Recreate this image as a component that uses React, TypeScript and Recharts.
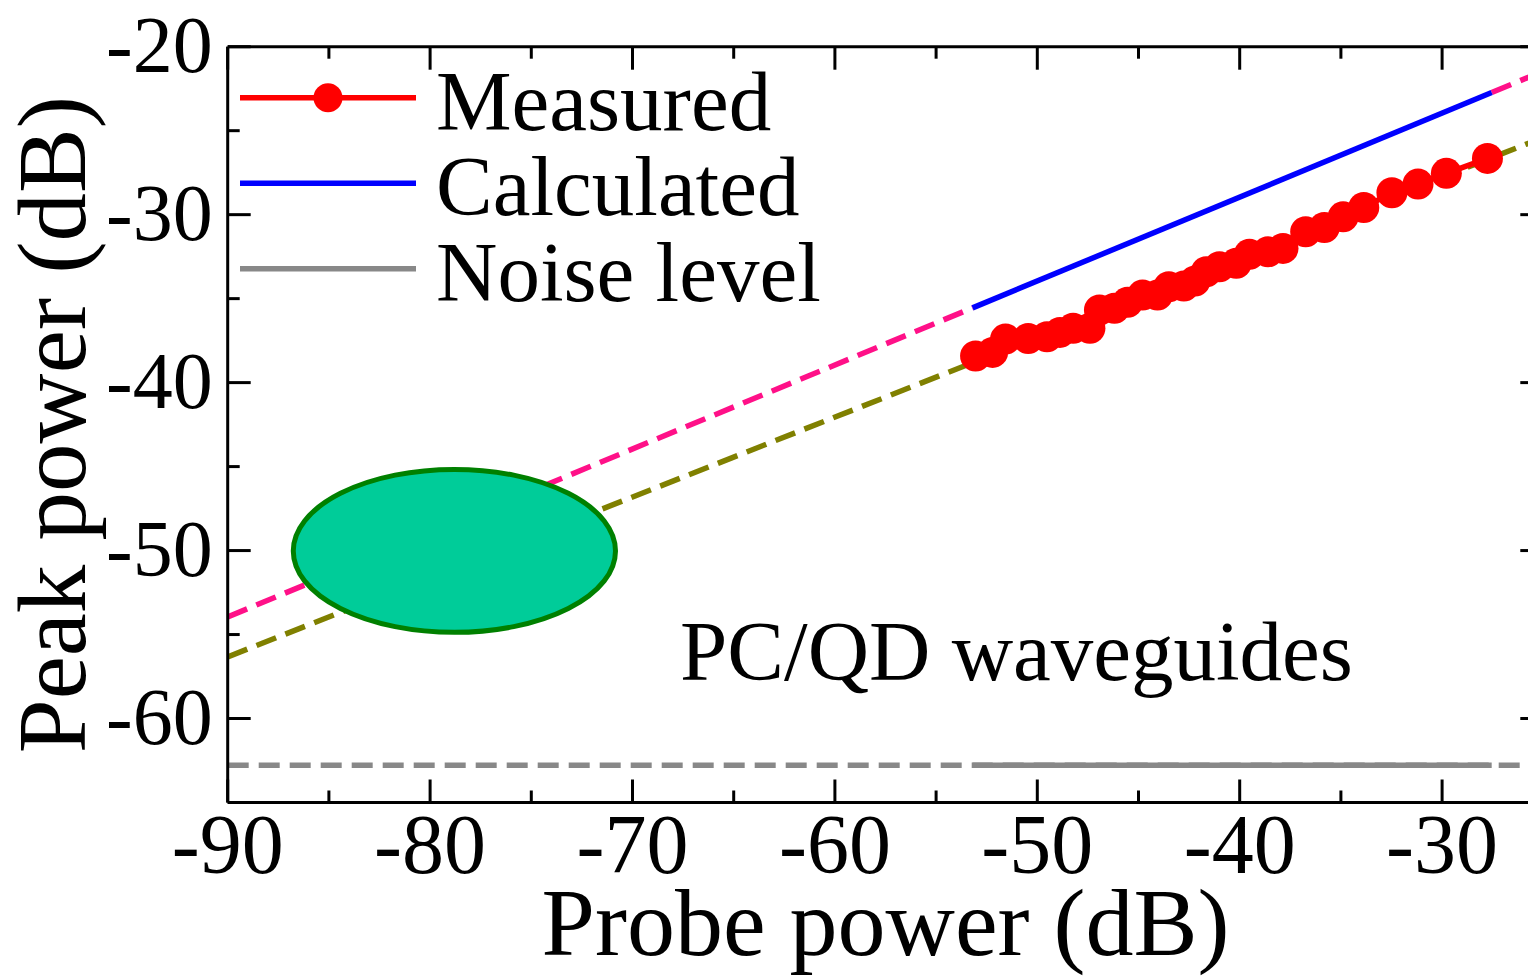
import React from 'react';
import {
  ComposedChart,
  Line,
  XAxis,
  YAxis,
  ReferenceArea,
  ReferenceDot,
  Legend,
  Label,
} from 'recharts';

// ---------- data ----------
const probePower = [
  -53.05, -52.21, -51.57, -50.45, -49.52, -48.88, -48.23, -47.4, -46.93, -46.19,
  -45.54, -44.8, -44.06, -43.5, -42.76, -42.21, -41.65, -41.0, -40.17, -39.52,
  -38.6, -37.86, -36.74, -35.82, -34.89, -33.87, -32.48, -31.19, -29.79, -27.76,
];
const peakPower = [
  -38.42, -38.2, -37.41, -37.37, -37.27, -37.01, -36.77, -36.77, -35.68, -35.58,
  -35.22, -34.79, -34.79, -34.29, -34.25, -33.95, -33.4, -33.1, -32.9, -32.36,
  -32.21, -32.01, -31.02, -30.76, -30.13, -29.57, -28.7, -28.18, -27.54, -26.65,
];

// calculated line: dashed extrapolation | solid range | dashed extrapolation
const calcX = [-90, -53.2, -27.55, -25];
const calcY = [-53.95, -35.55, -22.73, -21.45];
// fit through measured points (dashed)
const fitX = [-90, -25];
const fitY = [-56.33, -25.4];
// noise level
const noiseLevel = -62.78;
const noiseFullRange = [-90, -25];
const noiseMeasuredRange = [-53.2, -27.55];
// highlighted operating region (ellipse)
const spotX = [-86.76, -70.84];
const spotY = [-54.87, -45.17];

const xTicks = [-90, -85, -80, -75, -70, -65, -60, -55, -50, -45, -40, -35, -30, -25];
const yTicks = [-65, -60, -55, -50, -45, -40, -35, -30, -25, -20];
const xDomain = [-90, -25];
const yDomain = [-65, -20];

const legendItems = ['Measured', 'Calculated', 'Noise level'];
const annotationText = 'PC/QD waveguides';
const annotationAt = { x: -67.65, y: -57.72 };
const xTitle = 'Probe power (dB)';
const yTitle = 'Peak power (dB)';

// ---------- derived tables ----------
const measuredData = probePower.map((x, i) => ({ x, y: peakPower[i] }));
const calcLeft = [
  { x: calcX[0], y: calcY[0] },
  { x: calcX[1], y: calcY[1] },
];
const calcMid = [
  { x: calcX[1], y: calcY[1] },
  { x: calcX[2], y: calcY[2] },
];
const calcRight = [
  { x: calcX[2], y: calcY[2] },
  { x: calcX[3], y: calcY[3] },
];
const fitData = fitX.map((x, i) => ({ x, y: fitY[i] }));
const noiseDashed = noiseFullRange.map((x) => ({ x, y: noiseLevel }));
const noiseSolid = noiseMeasuredRange.map((x) => ({ x, y: noiseLevel }));

// ---------- style ----------
const FONT = '"Liberation Serif", "Times New Roman", Times, serif';
const W = 1600;
const H = 976;
// axes get a 1px box each, so margins are 1px smaller
const MARGIN = { top: 45.7, right: 55.7, bottom: 172.5, left: 226.7 };
const TM = 15; // tick margin
const MAJOR = 23;
const MINOR = 12;
const XTICK_FS = 84;
const YTICK_FS = 80;
const AXIS_W = 3;

const RED = '#ff0000';
const BLUE = '#0000ff';
const PINK = '#ff1088';
const OLIVE = '#808000';
const GRAY = '#888888';
const DASH = '21 10';
const LW = 5.5;

const isMajor = (v: number) => Math.round(v) % 10 === 0;

const BottomTick = (props: any) => {
  const { x, y, payload } = props;
  const v = Math.round(payload.value);
  const ay = y - TM;
  const len = isMajor(v) ? MAJOR : MINOR;
  return (
    <g>
      <line x1={x} x2={x} y1={ay} y2={ay - len} stroke="#000" strokeWidth={AXIS_W} />
      {isMajor(v) && (
        <text x={x} y={y} dy={55} textAnchor="middle" fontFamily={FONT} fontSize={XTICK_FS} fill="#000">
          {v}
        </text>
      )}
    </g>
  );
};

const TopTick = (props: any) => {
  const { x, y, payload } = props;
  const v = Math.round(payload.value);
  const ay = y + TM;
  const len = isMajor(v) ? MAJOR : MINOR;
  return <line x1={x} x2={x} y1={ay} y2={ay + len} stroke="#000" strokeWidth={AXIS_W} />;
};

const LeftTick = (props: any) => {
  const { x, y, payload } = props;
  const v = Math.round(payload.value);
  const ax = x + TM;
  const len = isMajor(v) ? MAJOR : MINOR;
  return (
    <g>
      <line x1={ax} x2={ax + len} y1={y} y2={y} stroke="#000" strokeWidth={AXIS_W} />
      {isMajor(v) && (
        <text x={x} y={y} dy={25} textAnchor="end" fontFamily={FONT} fontSize={YTICK_FS} fill="#000">
          {v}
        </text>
      )}
    </g>
  );
};

const RightTick = (props: any) => {
  const { x, y, payload } = props;
  const v = Math.round(payload.value);
  const ax = x - TM;
  const len = isMajor(v) ? MAJOR : MINOR;
  return <line x1={ax} x2={ax - len} y1={y} y2={y} stroke="#000" strokeWidth={AXIS_W} />;
};

const XTitle = (props: any) => {
  const vb = props.viewBox || {};
  const cx = vb.x + vb.width / 2;
  return (
    <text x={cx} y={vb.y + 152} textAnchor="middle" fontFamily={FONT} fontSize={96} fill="#000">
      {xTitle}
    </text>
  );
};

const YTitle = (props: any) => {
  const vb = props.viewBox || {};
  const cy = vb.y + vb.height / 2;
  const bx = vb.x + (vb.width || 0) - 143;
  return (
    <text
      x={bx}
      y={cy}
      transform={`rotate(-90 ${bx} ${cy})`}
      textAnchor="middle"
      fontFamily={FONT}
      fontSize={97}
      fill="#000"
    >
      {yTitle}
    </text>
  );
};

const Annotation = (props: any) => {
  const vb = props.viewBox || {};
  return (
    <text x={vb.x} y={vb.y} textAnchor="start" fontFamily={FONT} fontSize={85} fill="#000">
      {annotationText}
    </text>
  );
};

const EllipseShape = (props: any) => {
  const { x, y, width, height } = props;
  return (
    <ellipse
      cx={x + width / 2}
      cy={y + height / 2}
      rx={Math.abs(width) / 2}
      ry={Math.abs(height) / 2}
      fill="#00cc99"
      stroke="#008000"
      strokeWidth={5}
    />
  );
};

const LegendContent = () => {
  const rows = [97.7, 183.3, 268.7];
  const colors = [RED, BLUE, GRAY];
  return (
    <svg width={860} height={330} style={{ display: 'block', overflow: 'visible' }}>
      {legendItems.map((name, i) => (
        <g key={name}>
          <line x1={240} x2={416} y1={rows[i]} y2={rows[i]} stroke={colors[i]} strokeWidth={LW} />
          {i === 0 && <circle cx={328} cy={rows[i]} r={14.5} fill={RED} />}
          <text x={436} y={rows[i] + 32} fontFamily={FONT} fontSize={85} fill="#000">
            {name}
          </text>
        </g>
      ))}
    </svg>
  );
};

export default function App() {
  return (
    <div
      style={{
        position: 'fixed',
        left: 0,
        top: 0,
        width: 1528,
        height: 976,
        overflow: 'hidden',
        background: '#fff',
      }}
    >
      <ComposedChart width={W} height={H} margin={MARGIN}>
        <XAxis
          type="number"
          dataKey="x"
          domain={xDomain}
          ticks={xTicks}
          allowDataOverflow
          height={1}
          interval={0}
          tickLine={false}
          tickSize={0}
          tickMargin={TM}
          tick={<BottomTick />}
          axisLine={{ stroke: '#000', strokeWidth: AXIS_W }}
        >
          <Label content={<XTitle />} />
        </XAxis>
        <XAxis
          xAxisId="top"
          orientation="top"
          type="number"
          dataKey="x"
          domain={xDomain}
          ticks={xTicks}
          allowDataOverflow
          height={1}
          interval={0}
          tickLine={false}
          tickSize={0}
          tickMargin={TM}
          tick={<TopTick />}
          axisLine={{ stroke: '#000', strokeWidth: AXIS_W }}
        />
        <YAxis
          type="number"
          domain={yDomain}
          ticks={yTicks}
          allowDataOverflow
          width={1}
          interval={0}
          tickLine={false}
          tickSize={0}
          tickMargin={TM}
          tick={<LeftTick />}
          axisLine={{ stroke: '#000', strokeWidth: AXIS_W }}
        >
          <Label content={<YTitle />} />
        </YAxis>
        <YAxis
          yAxisId="right"
          orientation="right"
          type="number"
          domain={yDomain}
          ticks={yTicks}
          allowDataOverflow
          width={1}
          interval={0}
          tickLine={false}
          tickSize={0}
          tickMargin={TM}
          tick={<RightTick />}
          axisLine={{ stroke: '#000', strokeWidth: AXIS_W }}
        />

        <Line data={noiseDashed} dataKey="y" type="linear" stroke={GRAY} strokeWidth={LW} strokeDasharray={DASH} dot={false} activeDot={false} isAnimationActive={false} />
        <Line data={noiseSolid} dataKey="y" type="linear" stroke={GRAY} strokeWidth={LW} dot={false} activeDot={false} isAnimationActive={false} />
        <Line data={calcLeft} dataKey="y" type="linear" stroke={PINK} strokeWidth={LW} strokeDasharray={DASH} dot={false} activeDot={false} isAnimationActive={false} />
        <Line data={calcRight} dataKey="y" type="linear" stroke={PINK} strokeWidth={LW} strokeDasharray={DASH} dot={false} activeDot={false} isAnimationActive={false} />
        <Line data={calcMid} dataKey="y" type="linear" stroke={BLUE} strokeWidth={LW} dot={false} activeDot={false} isAnimationActive={false} />
        <Line data={fitData} dataKey="y" type="linear" stroke={OLIVE} strokeWidth={LW} strokeDasharray={DASH} dot={false} activeDot={false} isAnimationActive={false} />
        <Line
          data={measuredData}
          dataKey="y"
          type="linear"
          stroke={RED}
          strokeWidth={LW}
          dot={{ r: 15.5, fill: RED, stroke: 'none' }}
          activeDot={false}
          isAnimationActive={false}
        />

        <ReferenceArea
          x1={spotX[0]}
          x2={spotX[1]}
          y1={spotY[0]}
          y2={spotY[1]}
          shape={<EllipseShape />}
          ifOverflow="visible"
          zIndex={1000}
        />
        <ReferenceDot
          x={annotationAt.x}
          y={annotationAt.y}
          r={0}
          fill="none"
          stroke="none"
          label={<Annotation />}
        />

        <Legend
          layout="horizontal"
          verticalAlign="middle"
          align="center"
          wrapperStyle={{ left: 0, top: 0, width: 860, height: 330, margin: 0, padding: 0 }}
          content={<LegendContent />}
        />
      </ComposedChart>
    </div>
  );
}
